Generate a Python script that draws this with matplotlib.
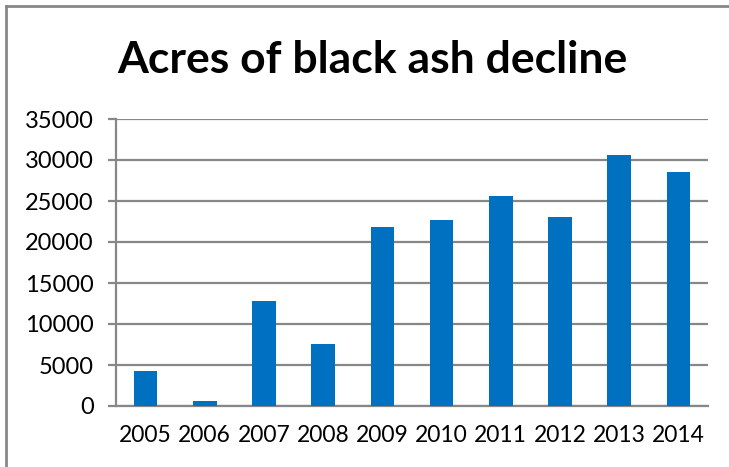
import matplotlib.pyplot as plt
import numpy as np

years = ["2005", "2006", "2007", "2008", "2009", "2010", "2011", "2012", "2013", "2014"]
acres = [4230, 610, 12800, 7520, 21870, 22640, 25650, 23090, 30650, 28580]
yticks = [0, 5000, 10000, 15000, 20000, 25000, 30000, 35000]

grey = "#878787"
fig = plt.figure(figsize=(7.29, 4.67), dpi=100)
ax = fig.add_axes([116/729, 1 - 406/467, (708 - 116)/729, (406 - 119)/467])

x = np.arange(len(years))
ax.bar(x, acres, width=0.4, color="#0070C0", zorder=3)

ax.set_xlim(-0.5, len(years) - 0.5)
ax.set_ylim(0, 35000)
ax.set_yticks(yticks)
ax.set_yticklabels([str(v) for v in yticks])
ax.set_xticks(x)
ax.set_xticklabels(years)
ax.yaxis.grid(True, color=grey, linewidth=1.6, zorder=0)
ax.set_axisbelow(True)

for s in ["top", "right"]:
    ax.spines[s].set_visible(False)
for s in ["left", "bottom"]:
    ax.spines[s].set_color(grey)
    ax.spines[s].set_linewidth(1.6)

ax.tick_params(axis="y", length=6, width=1.6, color=grey, labelsize=17, pad=10)
ax.tick_params(axis="x", length=0, labelsize=16.5, pad=14)
for lbl in ax.get_xticklabels() + ax.get_yticklabels():
    lbl.set_fontfamily("Lato")

fig.text(372/729, 1 - 60/467, "Acres of black ash decline", ha="center", va="center",
         fontsize=32, fontweight="bold", fontfamily="Lato")

# outer chart border
fig.add_artist(plt.Line2D([6/729, 6/729], [0, 1 - 6/467], color=grey, linewidth=2, transform=fig.transFigure))
fig.add_artist(plt.Line2D([6/729, 1], [1 - 6/467, 1 - 6/467], color=grey, linewidth=2, transform=fig.transFigure))

plt.savefig("out.png", dpi=100)
